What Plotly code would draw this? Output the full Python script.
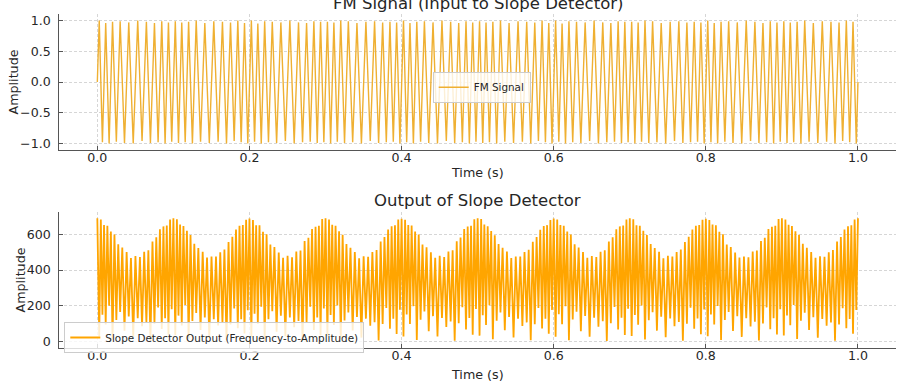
import plotly.graph_objects as go

# ---------------- data ----------------
# FM signal: times (s) of the positive peaks and of the negative troughs
fm_peak_t = [
    0.0025, 0.0110, 0.0200, 0.0300, 0.0413, 0.0531, 0.0645, 0.0751, 0.0847, 0.0935,
    0.1025, 0.1110, 0.1200, 0.1300, 0.1413, 0.1531, 0.1645, 0.1751, 0.1847, 0.1935,
    0.2025, 0.2110, 0.2200, 0.2300, 0.2413, 0.2531, 0.2645, 0.2751, 0.2847, 0.2935,
    0.3025, 0.3110, 0.3200, 0.3300, 0.3413, 0.3531, 0.3645, 0.3751, 0.3847, 0.3935,
    0.4025, 0.4110, 0.4200, 0.4300, 0.4413, 0.4531, 0.4645, 0.4751, 0.4847, 0.4935,
    0.5025, 0.5110, 0.5200, 0.5300, 0.5413, 0.5531, 0.5645, 0.5751, 0.5847, 0.5935,
    0.6025, 0.6110, 0.6200, 0.6300, 0.6413, 0.6531, 0.6645, 0.6751, 0.6847, 0.6935,
    0.7025, 0.7110, 0.7200, 0.7300, 0.7413, 0.7531, 0.7645, 0.7751, 0.7847, 0.7935,
    0.8025, 0.8110, 0.8200, 0.8300, 0.8413, 0.8531, 0.8645, 0.8751, 0.8847, 0.8935,
    0.9025, 0.9110, 0.9200, 0.9300, 0.9413, 0.9531, 0.9645, 0.9751, 0.9847, 0.9935,
]
fm_peak_v = [
    1.00, 0.96, 0.98, 0.99, 0.97, 1.00, 0.98, 0.96, 0.99, 0.97,
    0.99, 0.97, 0.98, 1.00, 0.96, 0.99, 0.98, 0.97, 1.00, 0.96,
    1.00, 0.95, 0.99, 0.98, 0.97, 1.00, 0.97, 0.96, 0.99, 0.98,
    0.98, 0.97, 1.00, 0.99, 0.96, 0.98, 0.99, 0.97, 0.98, 0.97,
    1.00, 0.96, 0.98, 0.99, 0.97, 1.00, 0.98, 0.96, 0.99, 0.97,
    0.99, 0.97, 0.98, 1.00, 0.96, 0.99, 0.98, 0.97, 1.00, 0.96,
    1.00, 0.95, 0.99, 0.98, 0.97, 1.00, 0.97, 0.96, 0.99, 0.98,
    0.98, 0.97, 1.00, 0.99, 0.96, 0.98, 0.99, 0.97, 0.98, 0.97,
    1.00, 0.96, 0.98, 0.99, 0.97, 1.00, 0.98, 0.96, 0.99, 0.97,
    0.99, 0.97, 0.98, 1.00, 0.96, 0.99, 0.98, 0.97, 1.00, 0.98,
]
fm_trough_t = [
    0.0067, 0.0155, 0.0250, 0.0357, 0.0472, 0.0588, 0.0698, 0.0799, 0.0891, 0.0978,
    0.1067, 0.1155, 0.1250, 0.1357, 0.1472, 0.1588, 0.1698, 0.1799, 0.1891, 0.1978,
    0.2067, 0.2155, 0.2250, 0.2357, 0.2472, 0.2588, 0.2698, 0.2799, 0.2891, 0.2978,
    0.3067, 0.3155, 0.3250, 0.3357, 0.3472, 0.3588, 0.3698, 0.3799, 0.3891, 0.3978,
    0.4067, 0.4155, 0.4250, 0.4357, 0.4472, 0.4588, 0.4698, 0.4799, 0.4891, 0.4978,
    0.5067, 0.5155, 0.5250, 0.5357, 0.5472, 0.5588, 0.5698, 0.5799, 0.5891, 0.5978,
    0.6067, 0.6155, 0.6250, 0.6357, 0.6472, 0.6588, 0.6698, 0.6799, 0.6891, 0.6978,
    0.7067, 0.7155, 0.7250, 0.7357, 0.7472, 0.7588, 0.7698, 0.7799, 0.7891, 0.7978,
    0.8067, 0.8155, 0.8250, 0.8357, 0.8472, 0.8588, 0.8698, 0.8799, 0.8891, 0.8978,
    0.9067, 0.9155, 0.9250, 0.9357, 0.9472, 0.9588, 0.9698, 0.9799, 0.9891, 0.9978,
]
fm_trough_v = [
    -0.98, -1.00, -0.97, -0.99, -1.00, -0.96, -0.99, -0.98, -1.00, -0.97,
    -0.99, -0.98, -1.00, -0.97, -0.99, -0.97, -1.00, -0.96, -0.98, -1.00,
    -0.97, -1.00, -0.98, -0.99, -0.96, -1.00, -0.98, -0.97, -0.99, -0.98,
    -1.00, -0.97, -0.99, -0.98, -1.00, -0.96, -0.99, -0.98, -0.97, -1.00,
    -0.98, -1.00, -0.97, -0.99, -1.00, -0.96, -0.99, -0.98, -1.00, -0.97,
    -0.99, -0.98, -1.00, -0.97, -0.99, -0.97, -1.00, -0.96, -0.98, -1.00,
    -0.97, -1.00, -0.98, -0.99, -0.96, -1.00, -0.98, -0.97, -0.99, -0.98,
    -1.00, -0.97, -0.99, -0.98, -1.00, -0.96, -0.99, -0.98, -0.97, -1.00,
    -0.98, -1.00, -0.97, -0.99, -1.00, -0.96, -0.99, -0.98, -1.00, -0.97,
    -0.99, -0.98, -1.00, -0.97, -0.99, -0.97, -1.00, -0.96, -0.98, -1.00,
]
fm_edge_t = [0.0, 1.0]
fm_edge_v = [0.0, 0.0]

# Slope detector output: spike tops (at the FM zero crossings) and the dips between them
zc_t = [0.0,
    0.0046, 0.0088, 0.0132, 0.0178, 0.0225, 0.0275, 0.0328, 0.0385, 0.0442, 0.0501,
    0.0560, 0.0616, 0.0671, 0.0725, 0.0775, 0.0823, 0.0869, 0.0913, 0.0956, 0.1000,
    0.1046, 0.1088, 0.1132, 0.1178, 0.1225, 0.1275, 0.1328, 0.1385, 0.1442, 0.1501,
    0.1560, 0.1616, 0.1671, 0.1725, 0.1775, 0.1823, 0.1869, 0.1913, 0.1956, 0.2000,
    0.2046, 0.2088, 0.2132, 0.2178, 0.2225, 0.2275, 0.2328, 0.2385, 0.2442, 0.2501,
    0.2560, 0.2616, 0.2671, 0.2725, 0.2775, 0.2823, 0.2869, 0.2913, 0.2956, 0.3000,
    0.3046, 0.3088, 0.3132, 0.3178, 0.3225, 0.3275, 0.3328, 0.3385, 0.3442, 0.3501,
    0.3560, 0.3616, 0.3671, 0.3725, 0.3775, 0.3823, 0.3869, 0.3913, 0.3956, 0.4000,
    0.4046, 0.4088, 0.4132, 0.4178, 0.4225, 0.4275, 0.4328, 0.4385, 0.4442, 0.4501,
    0.4560, 0.4616, 0.4671, 0.4725, 0.4775, 0.4823, 0.4869, 0.4913, 0.4956, 0.5000,
    0.5046, 0.5088, 0.5132, 0.5178, 0.5225, 0.5275, 0.5328, 0.5385, 0.5442, 0.5501,
    0.5560, 0.5616, 0.5671, 0.5725, 0.5775, 0.5823, 0.5869, 0.5913, 0.5956, 0.6000,
    0.6046, 0.6088, 0.6132, 0.6178, 0.6225, 0.6275, 0.6328, 0.6385, 0.6442, 0.6501,
    0.6560, 0.6616, 0.6671, 0.6725, 0.6775, 0.6823, 0.6869, 0.6913, 0.6956, 0.7000,
    0.7046, 0.7088, 0.7132, 0.7178, 0.7225, 0.7275, 0.7328, 0.7385, 0.7442, 0.7501,
    0.7560, 0.7616, 0.7671, 0.7725, 0.7775, 0.7823, 0.7869, 0.7913, 0.7956, 0.8000,
    0.8046, 0.8088, 0.8132, 0.8178, 0.8225, 0.8275, 0.8328, 0.8385, 0.8442, 0.8501,
    0.8560, 0.8616, 0.8671, 0.8725, 0.8775, 0.8823, 0.8869, 0.8913, 0.8956, 0.9000,
    0.9046, 0.9088, 0.9132, 0.9178, 0.9225, 0.9275, 0.9328, 0.9385, 0.9442, 0.9501,
    0.9560, 0.9616, 0.9671, 0.9725, 0.9775, 0.9823, 0.9869, 0.9913, 0.9956, 1.0000,
]
det_high_v = [690,
    682, 652, 648, 616, 598, 544, 526, 500, 467, 478, 473, 502, 511, 560, 583, 628, 644, 649, 683, 690,
    684, 655, 646, 619, 596, 547, 523, 502, 470, 476, 475, 499, 514, 557, 586, 626, 647, 652, 681, 688,
    680, 650, 650, 614, 600, 542, 528, 498, 468, 480, 471, 504, 509, 562, 581, 630, 642, 647, 685, 689,
    683, 653, 647, 617, 597, 545, 525, 501, 466, 477, 474, 501, 512, 559, 584, 627, 645, 650, 682, 687,
    681, 651, 649, 615, 599, 543, 527, 499, 469, 479, 472, 503, 510, 561, 582, 629, 643, 648, 684, 690,
    685, 654, 645, 618, 595, 546, 524, 503, 467, 475, 476, 500, 513, 558, 585, 625, 646, 651, 680, 688,
    682, 652, 648, 616, 598, 544, 526, 500, 468, 478, 473, 502, 511, 560, 583, 628, 644, 649, 683, 689,
    684, 650, 647, 619, 596, 545, 523, 502, 466, 480, 475, 501, 514, 557, 586, 626, 647, 652, 681, 687,
    680, 655, 650, 614, 600, 542, 528, 498, 470, 476, 471, 504, 509, 562, 581, 630, 642, 647, 685, 690,
    683, 653, 646, 617, 597, 547, 525, 501, 469, 477, 474, 499, 512, 559, 584, 627, 645, 650, 682, 689,
]
det_low_v = [
    30, 150, 95, 200, 10, 120, 165, 60, 140, 25, 130, 85, 110, 5, 100, 190, 70, 130, 40, 180,
    35, 145, 90, 205, 15, 115, 160, 65, 135, 20, 125, 90, 105, 8, 95, 185, 75, 125, 45, 175,
    25, 155, 100, 195, 5, 125, 170, 55, 145, 30, 135, 80, 115, 3, 105, 195, 65, 135, 35, 185,
    32, 148, 92, 202, 12, 118, 163, 62, 138, 22, 128, 88, 108, 6, 98, 188, 72, 128, 42, 178,
    28, 152, 98, 198, 8, 122, 168, 58, 142, 28, 132, 82, 112, 4, 102, 192, 68, 132, 38, 182,
    33, 147, 93, 203, 13, 117, 162, 63, 137, 23, 127, 87, 107, 7, 97, 187, 73, 127, 43, 177,
    27, 153, 97, 197, 7, 123, 167, 57, 143, 27, 133, 83, 113, 3, 103, 193, 67, 133, 37, 183,
    31, 149, 94, 201, 11, 119, 164, 61, 139, 24, 129, 86, 109, 5, 99, 189, 71, 129, 41, 179,
    29, 151, 96, 199, 9, 121, 166, 59, 141, 26, 131, 84, 111, 6, 101, 191, 69, 131, 39, 181,
    34, 146, 91, 204, 14, 116, 161, 64, 136, 21, 126, 89, 106, 4, 96, 186, 74, 126, 44, 176,
]

x_tick_vals = [0.0, 0.2, 0.4, 0.6, 0.8, 1.0]
x_tick_text = ["0.0", "0.2", "0.4", "0.6", "0.8", "1.0"]
y1_tick_vals = [-1.0, -0.5, 0.0, 0.5, 1.0]
y1_tick_text = ["\u22121.0", "\u22120.5", "0.0", "0.5", "1.0"]
y2_tick_vals = [0, 200, 400, 600]
y2_tick_text = ["0", "200", "400", "600"]

# ---------------- assemble series ----------------
fm_pts = sorted(zip(fm_peak_t + fm_trough_t + fm_edge_t, fm_peak_v + fm_trough_v + fm_edge_v))
fm_x = [p[0] for p in fm_pts]
fm_y = [p[1] for p in fm_pts]

det_low_t = sorted(fm_peak_t + fm_trough_t)  # detector dips sit on the FM extrema
det_pts = sorted(list(zip(zc_t, det_high_v)) + list(zip(det_low_t, det_low_v)))
det_x = [p[0] for p in det_pts]
det_y = [p[1] for p in det_pts]

# ---------------- figure ----------------
W, H = 904, 385
FONT = "DejaVu Sans"
TXT = "#262626"
SPINE = "#555555"
GRID = "#d6d6d6"


def py(p):
    return 1 - p / H


x_dom = [59.3 / W, 896 / W]
top_dom = [py(149.7), py(14.4)]
bot_dom = [py(347.7), py(212.0)]

fig = go.Figure()
fig.add_trace(go.Scatter(
    x=fm_x, y=fm_y, mode="lines", name="FM Signal",
    line=dict(color="#EFB032", width=1.4),
    xaxis="x", yaxis="y", legend="legend",
))
fig.add_trace(go.Scatter(
    x=det_x, y=det_y, mode="lines", name="Slope Detector Output (Frequency-to-Amplitude)",
    line=dict(color="#FFA500", width=1.8),
    xaxis="x2", yaxis="y2", legend="legend2",
))

axis_common = dict(
    automargin=False,
    showline=True, linecolor=SPINE, linewidth=1.2,
    ticks="inside", ticklen=4, tickcolor=SPINE, tickwidth=1,
    showgrid=True, gridcolor=GRID, griddash="3px,2px", gridwidth=0.8,
    zeroline=False, tickfont=dict(family=FONT, size=12.6, color=TXT),
)
xax = dict(axis_common, ticklabelstandoff=-4)
yax = dict(axis_common, ticklabelstandoff=5)

fig.update_layout(
    width=W, height=H,
    margin=dict(l=0, r=0, t=0, b=0, autoexpand=False),
    paper_bgcolor="white", plot_bgcolor="white",
    font=dict(family=FONT, color=TXT),
    xaxis=dict(domain=x_dom, anchor="y", range=[-0.05, 1.05],
               tickvals=x_tick_vals, ticktext=x_tick_text, **xax),
    yaxis=dict(domain=top_dom, anchor="x", range=[-1.1, 1.1],
               tickvals=y1_tick_vals, ticktext=y1_tick_text, **yax),
    xaxis2=dict(domain=x_dom, anchor="y2", range=[-0.05, 1.05],
                tickvals=x_tick_vals, ticktext=x_tick_text, **xax),
    yaxis2=dict(domain=bot_dom, anchor="x2", range=[-34.5, 724.5],
                tickvals=y2_tick_vals, ticktext=y2_tick_text, **yax),
    legend=dict(x=432.7 / W, y=py(71.7), xanchor="left", yanchor="top",
                bgcolor="rgba(255,255,255,0.8)", bordercolor="#cccccc", borderwidth=1,
                font=dict(family=FONT, size=10.4, color=TXT)),
    legend2=dict(x=64.3 / W, y=py(322.0), xanchor="left", yanchor="top",
                 bgcolor="rgba(255,255,255,0.8)", bordercolor="#cccccc", borderwidth=1,
                 font=dict(family=FONT, size=10.4, color=TXT)),
    showlegend=True,
)

xc = (x_dom[0] + x_dom[1]) / 2
ann = [
    dict(text="FM Signal (Input to Slope Detector)", x=xc, y=py(3.0), size=16.5, angle=0),
    dict(text="Output of Slope Detector", x=xc, y=py(200.7), size=16.5, angle=0),
    dict(text="Time (s)", x=xc, y=py(172.5), size=12.7, angle=0),
    dict(text="Time (s)", x=xc, y=py(374.0), size=12.7, angle=0),
    dict(text="Amplitude", x=13.5 / W, y=py(82.0), size=12.7, angle=-90),
    dict(text="Amplitude", x=20.0 / W, y=py(280.5), size=12.7, angle=-90),
]
for a in ann:
    fig.add_annotation(
        text=a["text"], x=a["x"], y=a["y"], xref="paper", yref="paper",
        xanchor="center", yanchor="middle", showarrow=False, textangle=a["angle"],
        font=dict(family=FONT, size=a["size"], color=TXT),
    )

# the page body default margin would offset the figure; remove it
fig.write_html("out.html", config={"displayModeBar": False},
               post_script="document.body.style.margin='0';")
